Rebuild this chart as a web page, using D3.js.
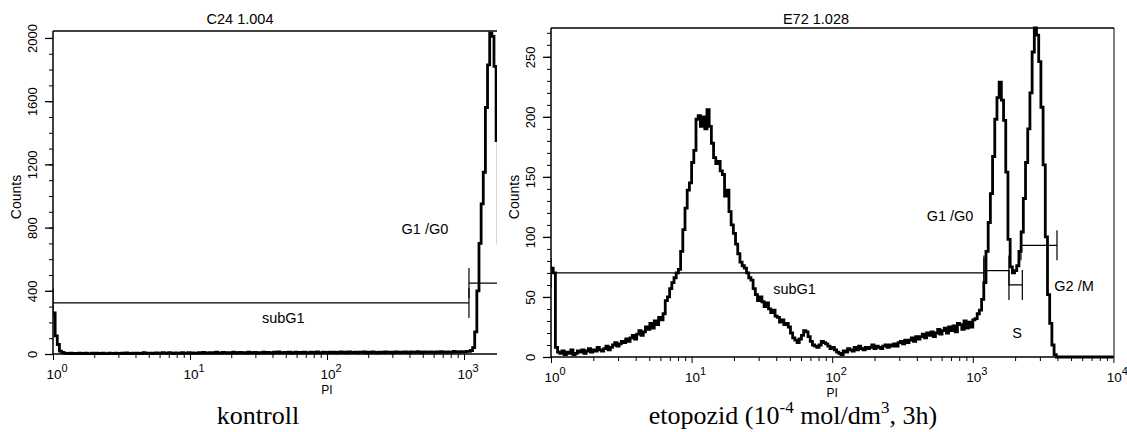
<!DOCTYPE html>
<html>
<head>
<meta charset="utf-8">
<script src="https://cdn.jsdelivr.net/npm/d3@7"></script>
<style>
body { margin: 0; background: #fff; }
svg { display: block; }
text { font-family: "Liberation Sans", Arial, sans-serif; fill: #000; }
.caption { font-family: "Liberation Serif", "Times New Roman", serif; }
</style>
</head>
<body>
<svg id="chart" width="1127" height="432"></svg>
<script>
// histogram channels: 64 channels per decade of PI, channel 0 = 10^0
var chPerDecade = 64;

// kontroll (C24) counts per channel
var controlCounts = [
    260, 115, 60,
    18, 10, 6, 4, 3, 5, 2, 4, 3, 6, 2, 4, 5, 3, 2, 6,
    3, 5, 2, 4, 6, 3, 2, 5, 4, 3, 6, 2, 4, 5, 3, 7,
    4, 2, 5, 3, 6, 4, 3, 8, 5, 4, 6, 3, 5, 7, 4, 6,
    9, 5, 4, 8, 6, 3, 7, 5, 4, 9, 6, 5, 8, 4, 7, 6,
    5, 8, 6, 10, 7, 5, 9, 6, 8, 12, 7, 6, 10, 8, 5, 9,
    7, 11, 6, 8, 10, 7, 9, 6, 11, 8, 7, 10, 6, 9, 8, 12,
    7, 10, 9, 6, 11, 8, 13, 7, 9, 10, 8, 12, 6, 9, 11, 7,
    10, 8, 12, 9, 7, 11, 10, 8, 13, 9, 7, 12, 10, 8, 11, 9,
    12, 8, 10, 14, 9, 11, 8, 13, 10, 9, 12, 7, 11, 10, 14, 8,
    11, 9, 13, 10, 8, 12, 11, 9, 14, 10, 12, 8, 11, 13, 9, 12,
    10, 14, 11, 9, 13, 12, 10, 15, 11, 9, 13, 10, 12, 14, 11, 10,
    13, 11, 15, 12, 10, 14, 12, 11, 16, 13, 12, 15, 14, 13, 17, 16, 22,
    40, 140, 400, 700, 950, 1150, 1560, 1830, 2030, 2010, 1820, 1350,
    700, 300, 100, 30, 8, 0
];

// etopozid (E72) counts per channel
var etopCounts = [
    74, 70, 8, 4, 3, 5, 2, 4, 3, 6, 2, 3, 5, 4, 6, 3,
    5, 7, 4, 6, 5, 8, 6, 5, 7, 9, 6, 8, 10, 12, 9, 11,
    13, 12, 15, 13, 16, 18, 15, 19, 22, 18, 21, 25, 23, 28, 24, 30,
    27, 33, 31, 36, 47, 50, 57, 62, 66, 70, 73, 88, 106, 124, 139, 145,
    162, 172, 198, 201, 192, 200, 190, 206, 192, 178, 166, 161, 163, 155, 152, 134,
    139, 121, 110, 103, 94, 86, 79, 76, 74, 70, 66, 64, 57, 52, 47, 50,
    46, 42, 45, 40, 37, 39, 34, 33, 29, 31, 27, 28, 25, 20, 16, 14,
    12, 15, 18, 22, 21, 17, 13, 10, 9, 8, 10, 13, 12, 11, 9, 7,
    8, 6, 4, 3, 2, 5, 4, 7, 6, 5, 8, 6, 9, 7, 6, 8,
    7, 8, 10, 7, 9, 8, 7, 9, 10, 8, 10, 9, 11, 9, 12, 13,
    11, 14, 12, 14, 16, 13, 17, 15, 17, 19, 16, 20, 18, 21, 17, 20,
    23, 19, 22, 24, 20, 25, 22, 26, 21, 28, 27, 23, 30, 24, 29, 25,
    31, 32, 36, 39, 48, 62, 88, 112, 136, 167, 198, 216, 229, 214, 197, 154,
    98, 75, 70, 72, 76, 88, 104, 132, 162, 190, 220, 254, 274, 268, 246, 208,
    160, 100, 52, 28, 10, 2, 0, 0, 0, 0, 0, 0, 0, 0, 0, 0,
    0, 0, 0, 0, 0, 0, 0, 0, 0, 0, 0, 0, 0, 0, 0, 0
];

var decades = [1, 10, 100, 1000, 10000];
var decadeExps = ["0", "1", "2", "3", "4"];
var controlYTicks = [0, 400, 800, 1200, 1600, 2000];
var etopYTicks = [0, 50, 100, 150, 200, 250];

// marker gates: [name, low PI, high PI, count level]
var controlGates = [
    ["subG1", 1, 1087, 323],
    ["G1/G0", 1087, 3000, 449]
];
var etopGates = [
    ["subG1", 1, 1200, 70],
    ["G1/G0", 1200, 1808, 72],
    ["S", 1808, 2250, 60],
    ["G2/M", 2200, 3970, 93]
];
// gate labels: [text, PI, count]
var controlLabels = [
    ["subG1", 48, 228],
    ["G1 /G0", 519, 791]
];
var etopLabels = [
    ["subG1", 54, 57],
    ["G1 /G0", 689, 118],
    ["G2 /M", 5250, 59],
    ["S", 2063, 20]
];

var svg = d3.select("#chart");

function drawPanel(o) {
    var g = svg.append("g");

    var x = d3.scaleLog().domain([1, 10000]).range([o.left, o.left + o.decadeW * 4]);
    var y = d3.scaleLinear().domain([0, o.yMax]).range([o.bottom, o.top]);
    var xMaxVal = x.invert(o.right);

    var clipId = "clip-" + o.id;
    svg.append("clipPath").attr("id", clipId)
        .append("rect")
        .attr("x", o.left)
        .attr("y", o.top - 2)
        .attr("width", o.right - o.left)
        .attr("height", o.bottom - o.top + 4);

    // minor & major x ticks
    var minor = [];
    decades.slice(0, 4).forEach(function (d) {
        for (var k = 2; k <= 9; k++) minor.push(d * k);
    });
    minor = minor.filter(function (v) { return v <= xMaxVal; });
    var majors = decades.filter(function (v) { return v <= xMaxVal + 1e-6; });

    g.append("g").attr("transform", "translate(0," + o.bottom + ")")
        .call(d3.axisBottom(x).tickValues(minor).tickSize(4).tickFormat(""))
        .call(function (a) { a.select(".domain").remove(); });
    g.append("g").attr("transform", "translate(0," + o.bottom + ")")
        .call(d3.axisBottom(x).tickValues(majors).tickSize(6).tickFormat(""))
        .call(function (a) { a.select(".domain").remove(); });

    majors.forEach(function (v) {
        var i = decades.indexOf(v);
        var t = g.append("text")
            .attr("x", x(v) + 4)
            .attr("y", o.bottom + 25)
            .attr("text-anchor", "middle")
            .style("font-size", "13.5px");
        t.append("tspan").text("10");
        t.append("tspan").attr("dy", -7).style("font-size", "11px").text(decadeExps[i]);
    });

    g.append("text")
        .attr("x", x(100))
        .attr("y", o.bottom + 40)
        .attr("text-anchor", "middle")
        .style("font-size", "12px")
        .text("PI");

    // y axis
    var yMinor = d3.range(0, o.yMax, o.yMinorStep);
    g.append("g").attr("transform", "translate(" + o.left + ",0)")
        .call(d3.axisLeft(y).tickValues(yMinor).tickSize(4).tickFormat(""))
        .call(function (a) { a.select(".domain").remove(); });
    var yAx = g.append("g").attr("transform", "translate(" + o.left + ",0)")
        .call(d3.axisLeft(y).tickValues(o.yTicks).tickSize(8).tickFormat(d3.format("d")));
    yAx.select(".domain").remove();
    yAx.selectAll("text")
        .attr("transform", "rotate(-90)")
        .attr("x", 0)
        .attr("y", -16)
        .attr("dy", 0)
        .attr("text-anchor", "middle")
        .style("font-size", "13px")
        .style("font-family", "'Liberation Sans', Arial, sans-serif");
    yAx.selectAll("line").attr("stroke-width", 1.3);

    g.append("text")
        .attr("transform", "translate(" + (o.left - 32) + "," + 197 + ") rotate(-90)")
        .attr("text-anchor", "middle")
        .style("font-size", "14px")
        .text("Counts");

    // frame
    g.append("line").attr("x1", o.left).attr("x2", o.left).attr("y1", o.top).attr("y2", o.bottom)
        .attr("stroke", "#000").attr("stroke-width", 1.5);
    g.append("line").attr("x1", o.left).attr("x2", o.right).attr("y1", o.top).attr("y2", o.top)
        .attr("stroke", "#000").attr("stroke-width", 1.5);
    g.append("line").attr("x1", o.left).attr("x2", o.right).attr("y1", o.bottom).attr("y2", o.bottom)
        .attr("stroke", "#000").attr("stroke-width", 1.3);
    if (o.rightFrame) {
        g.append("line").attr("x1", o.right).attr("x2", o.right).attr("y1", o.top).attr("y2", o.bottom)
            .attr("stroke", "#000").attr("stroke-width", 1);
    }

    // title
    g.append("text")
        .attr("x", o.titleX)
        .attr("y", 24)
        .attr("text-anchor", "middle")
        .style("font-size", "14.5px")
        .text(o.title);

    var plot = g.append("g").attr("clip-path", "url(#" + clipId + ")");

    // gates
    var half = 15;
    o.gates.forEach(function (gt) {
        var x0 = x(gt[1]), x1 = x(gt[2]), yy = y(gt[3]);
        plot.append("path")
            .attr("d", "M" + x0 + "," + yy + "H" + x1 +
                "M" + x0 + "," + (yy - half) + "V" + (yy + half) +
                "M" + x1 + "," + (yy - half) + "V" + (yy + half))
            .attr("fill", "none")
            .attr("stroke", "#000")
            .attr("stroke-width", 1.2);
    });

    // histogram
    var pts = o.counts.map(function (c, i) {
        return [Math.pow(10, i / chPerDecade), c];
    });
    pts.push([Math.pow(10, o.counts.length / chPerDecade), o.counts[o.counts.length - 1]]);

    var line = d3.line()
        .x(function (d) { return x(d[0]); })
        .y(function (d) { return y(d[1]); })
        .curve(d3.curveStepAfter);

    plot.append("path")
        .datum(pts)
        .attr("d", line)
        .attr("fill", "none")
        .attr("stroke", "#000")
        .attr("stroke-width", 2.8)
        .attr("stroke-linejoin", "miter");

    o.labels.forEach(function (lb) {
        g.append("text")
            .attr("x", x(lb[1]))
            .attr("y", y(lb[2]))
            .attr("dy", "0.36em")
            .attr("text-anchor", "middle")
            .style("font-size", "14.5px")
            .text(lb[0]);
    });
}

drawPanel({
    id: "kontroll",
    left: 53, right: 497, top: 31, bottom: 354, decadeW: 137,
    yMax: 2044, yTicks: controlYTicks, yMinorStep: 100,
    counts: controlCounts, gates: controlGates, labels: controlLabels,
    title: "C24 1.004", titleX: 240, rightFrame: false
});

drawPanel({
    id: "etop",
    left: 551, right: 1114, top: 28, bottom: 357, decadeW: 140.6,
    yMax: 274, yTicks: etopYTicks, yMinorStep: 10,
    counts: etopCounts, gates: etopGates, labels: etopLabels,
    title: "E72 1.028", titleX: 816, rightFrame: true
});

// captions under the panels
svg.append("text").attr("class", "caption")
    .attr("x", 258).attr("y", 424)
    .attr("text-anchor", "middle")
    .style("font-size", "26px")
    .text("kontroll");

var cap = svg.append("text").attr("class", "caption")
    .attr("x", 793).attr("y", 424)
    .attr("text-anchor", "middle")
    .style("font-size", "26px");
cap.append("tspan").text("etopozid (10");
cap.append("tspan").attr("dy", -11).style("font-size", "17px").text("-4");
cap.append("tspan").attr("dy", 11).text(" mol/dm");
cap.append("tspan").attr("dy", -11).style("font-size", "17px").text("3");
cap.append("tspan").attr("dy", 11).text(", 3h)");
</script>
</body>
</html>
